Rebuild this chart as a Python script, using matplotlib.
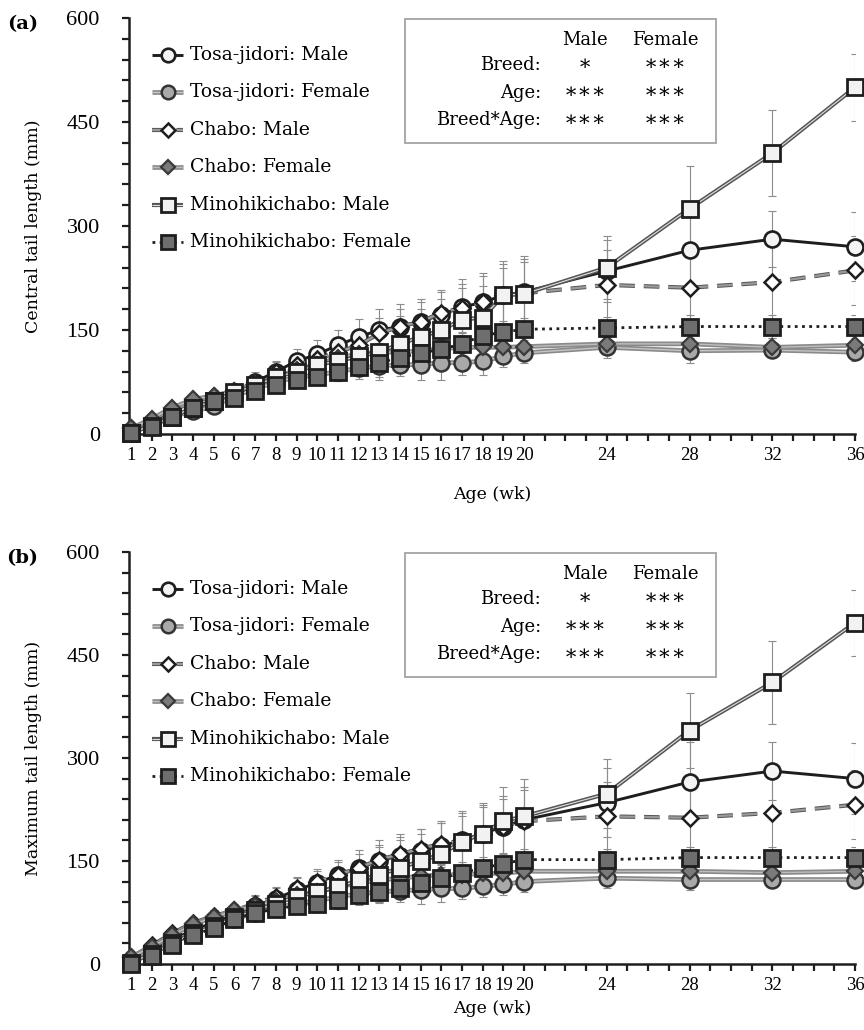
import matplotlib.pyplot as plt
from matplotlib import patheffects as pe

# -----------------------------
# Data
# -----------------------------

weeks = list(range(1, 21)) + [24, 28, 32, 36]

series_labels = [
    "Tosa-jidori: Male",
    "Tosa-jidori: Female",
    "Chabo: Male",
    "Chabo: Female",
    "Minohikichabo: Male",
    "Minohikichabo: Female",
]

# (a) central tail length, mm
central_tosa_m = [5, 15, 28, 35, 42, 60, 75, 90, 105, 115, 128, 140, 150, 155, 162, 172, 183, 190, 200, 205, 235, 265, 281, 270]
central_tosa_f = [3, 12, 25, 33, 40, 55, 65, 75, 82, 85, 90, 95, 98, 100, 100, 103, 103, 105, 112, 117, 125, 120, 121, 118]
central_chabo_m = [8, 20, 35, 45, 55, 62, 75, 90, 100, 108, 118, 128, 145, 155, 162, 175, 182, 190, 200, 203, 215, 211, 219, 236]
central_chabo_f = [8, 22, 38, 50, 55, 62, 72, 82, 92, 100, 110, 115, 118, 118, 120, 123, 125, 125, 125, 126, 130, 130, 125, 128]
central_mino_m = [2, 12, 25, 38, 48, 60, 70, 82, 90, 100, 105, 112, 118, 130, 140, 150, 165, 168, 200, 202, 240, 325, 405, 500]
central_mino_f = [2, 10, 25, 38, 48, 52, 62, 70, 78, 82, 90, 97, 103, 110, 117, 122, 130, 142, 147, 151, 153, 155, 155, 155]

central_tosa_m_sd = [3, 5, 6, 8, 10, 12, 14, 16, 18, 20, 22, 26, 30, 32, 32, 36, 40, 42, 45, 48, 45, 58, 40, 50]
central_tosa_f_sd = [2, 4, 5, 6, 8, 9, 10, 11, 12, 13, 14, 15, 16, 16, 22, 25, 18, 20, 15, 15, 15, 18, 12, 12]
central_chabo_m_sd = [3, 5, 6, 8, 9, 10, 12, 14, 15, 16, 18, 20, 22, 25, 28, 30, 35, 38, 40, 45, 50, 55, 55, 50]
central_chabo_f_sd = [2, 4, 5, 6, 7, 8, 9, 10, 11, 12, 12, 13, 13, 14, 14, 14, 14, 14, 14, 14, 14, 14, 14, 14]
central_mino_m_sd = [2, 4, 5, 6, 8, 10, 12, 14, 16, 18, 22, 28, 40, 40, 40, 45, 45, 45, 50, 55, 45, 62, 62, 48]
central_mino_f_sd = [2, 3, 4, 5, 6, 8, 9, 10, 11, 12, 13, 14, 14, 15, 16, 16, 16, 16, 16, 16, 16, 16, 16, 16]

# (b) maximum tail length, mm
maximum_tosa_m = [5, 20, 35, 50, 60, 72, 85, 95, 108, 118, 130, 140, 150, 158, 165, 172, 180, 190, 200, 210, 235, 265, 281, 270]
maximum_tosa_f = [3, 18, 32, 45, 55, 65, 75, 82, 88, 92, 98, 102, 105, 107, 108, 110, 110, 113, 116, 120, 125, 123, 123, 123]
maximum_chabo_m = [10, 27, 45, 60, 70, 78, 88, 98, 110, 120, 130, 140, 152, 160, 168, 175, 180, 190, 200, 208, 215, 213, 220, 232]
maximum_chabo_f = [10, 25, 42, 58, 68, 78, 85, 92, 100, 105, 112, 118, 122, 125, 128, 130, 130, 132, 132, 135, 135, 135, 133, 135]
maximum_mino_m = [2, 15, 30, 45, 55, 68, 78, 88, 98, 105, 112, 122, 130, 140, 150, 160, 178, 190, 208, 215, 248, 340, 410, 497]
maximum_mino_f = [0, 12, 28, 42, 52, 65, 75, 80, 85, 88, 93, 100, 105, 110, 118, 125, 133, 140, 146, 152, 152, 155, 155, 155]

maximum_tosa_m_sd = [3, 5, 6, 8, 10, 12, 14, 16, 18, 20, 22, 26, 30, 32, 32, 36, 40, 42, 45, 48, 50, 58, 42, 52]
maximum_tosa_f_sd = [2, 4, 5, 6, 8, 9, 10, 11, 12, 13, 14, 15, 16, 16, 20, 20, 16, 16, 15, 15, 15, 15, 12, 12]
maximum_chabo_m_sd = [3, 5, 6, 8, 9, 10, 12, 14, 15, 16, 18, 20, 22, 25, 28, 30, 35, 38, 40, 45, 50, 55, 55, 50]
maximum_chabo_f_sd = [2, 4, 5, 6, 7, 8, 9, 10, 11, 12, 12, 13, 13, 14, 14, 14, 14, 14, 14, 14, 14, 14, 14, 14]
maximum_mino_m_sd = [2, 4, 5, 6, 8, 10, 12, 14, 16, 18, 22, 28, 40, 40, 40, 45, 45, 45, 50, 55, 50, 55, 60, 48]
maximum_mino_f_sd = [2, 3, 4, 5, 6, 8, 9, 10, 11, 12, 13, 14, 14, 15, 16, 16, 16, 16, 16, 16, 16, 16, 16, 16]

stat_rows = ["Breed:", "Age:", "Breed*Age:"]
stat_male = ["\u2217", "\u2217\u2217\u2217", "\u2217\u2217\u2217"]
stat_female = ["\u2217\u2217\u2217", "\u2217\u2217\u2217", "\u2217\u2217\u2217"]

# -----------------------------
# Styles
# -----------------------------

plt.rcParams["font.family"] = ["DejaVu Serif"]

DARK = "#1e1e1e"


def double(outer, inner, w_out, w_in):
    return dict(lw=w_in, color=inner,
                path_effects=[pe.Stroke(linewidth=w_out, foreground=outer), pe.Normal()])


styles = [
    dict(line=dict(lw=2.1, color=DARK, ls="-"),
         mk=dict(marker="o", ms=11.5, mfc="#f4f4f4", mec=DARK, mew=1.9)),
    dict(line=double("#8a8a8a", "#c4c4c4", 3.4, 1.0),
         mk=dict(marker="o", ms=11.5, mfc="#a9a9a9", mec="#333333", mew=1.8)),
    dict(line=dict(lw=1.6, color="#9a9a9a", ls=(0, (7, 4)),
                   path_effects=[pe.Stroke(linewidth=3.0, foreground="#555555"), pe.Normal()]),
         mk=dict(marker="D", ms=8.5, mfc="white", mec=DARK, mew=1.8)),
    dict(line=double("#8a8a8a", "#bdbdbd", 3.4, 1.0),
         mk=dict(marker="D", ms=8.5, mfc="#7a7a7a", mec="#3a3a3a", mew=1.6)),
    dict(line=double("#555555", "#e0e0e0", 3.0, 0.8),
         mk=dict(marker="s", ms=11.5, mfc="#f2f2f2", mec=DARK, mew=2.0)),
    dict(line=dict(lw=2.0, color=DARK, ls=(0, (1, 1.6))),
         mk=dict(marker="s", ms=11.5, mfc="#6e6e6e", mec=DARK, mew=2.0)),
]

# -----------------------------
# Figure
# -----------------------------

fig = plt.figure(figsize=(8.64, 10.30), dpi=100)

W, H = 864, 1030
AX_L, AX_R = 129, 855


def add_axes(top_px, bottom_px):
    return fig.add_axes([AX_L / W, 1 - bottom_px / H, (AX_R - AX_L) / W, (bottom_px - top_px) / H])


def draw_panel(ax, values, sds, ylabel, tag, height_px, xlabel_pad):
    for vals, sd in zip(values, sds):
        ax.errorbar(weeks, vals, yerr=sd, fmt="none", ecolor="#8c8c8c",
                    elinewidth=0.8, capsize=3, capthick=0.8, zorder=1)
    for i, (vals, st) in enumerate(zip(values, styles)):
        ax.plot(weeks, vals, zorder=2 + 2 * i, solid_capstyle="butt", **st["line"])
        ax.plot(weeks, vals, ls="none", zorder=3 + 2 * i, clip_on=False, **st["mk"])

    ax.set_xlim(0.9, 36)
    ax.set_ylim(0, 600)

    for s in ["top", "right"]:
        ax.spines[s].set_visible(False)
    for s in ["left", "bottom"]:
        ax.spines[s].set_linewidth(1.8)
        ax.spines[s].set_color(DARK)

    ax.set_xticks(range(1, 37))
    ax.set_xticklabels([str(w) if w in weeks else "" for w in range(1, 37)])
    ax.set_yticks([0, 150, 300, 450, 600])
    ax.set_yticks(range(0, 601, 30), minor=True)
    ax.tick_params(axis="x", direction="out", length=5, width=1.6, color=DARK, pad=4)
    ax.tick_params(axis="y", which="both", direction="out", length=5, width=1.6,
                   color=DARK, pad=16)
    for t in ax.get_xticklabels():
        t.set_fontfamily("Liberation Serif")
        t.set_fontsize(13.5)
    for t in ax.get_yticklabels():
        t.set_fontfamily("Liberation Serif")
        t.set_fontsize(16)

    ax.set_xlabel("Age (wk)", fontsize=12.5, labelpad=xlabel_pad)
    ax.set_ylabel(ylabel, fontsize=12.5)
    ax.yaxis.set_label_coords(-0.12, 0.5)

    ax.text(-0.147, 0.985, tag, transform=ax.transAxes, fontsize=14,
            fontweight="bold", ha="center", va="center")

    # legend drawn by hand so the rows sit where the original has them
    for i, (lab, st) in enumerate(zip(series_labels, styles)):
        y = 1 - (37 + 37.4 * i) / height_px
        x0, x1 = (152 - AX_L) / (AX_R - AX_L), (183 - AX_L) / (AX_R - AX_L)
        ax.plot([x0, x1], [y, y], transform=ax.transAxes, clip_on=False,
                zorder=20, solid_capstyle="butt", **st["line"])
        mk = dict(st["mk"])
        mk["ms"] = mk["ms"] * 0.85
        ax.plot([(x0 + x1) / 2], [y], transform=ax.transAxes, clip_on=False,
                ls="none", zorder=21, **mk)
        ax.text((190 - AX_L) / (AX_R - AX_L), y, lab, transform=ax.transAxes,
                fontsize=13.5, va="center", ha="left")

    # statistics box
    bx0 = (405 - AX_L) / (AX_R - AX_L)
    bx1 = (716 - AX_L) / (AX_R - AX_L)
    by1 = 1 - 1 / height_px
    by0 = 1 - 125 / height_px
    ax.add_patch(plt.Rectangle((bx0, by0), bx1 - bx0, by1 - by0, transform=ax.transAxes,
                               fill=True, facecolor="white", edgecolor="#aaaaaa",
                               lw=1.4, zorder=25, clip_on=False))
    cx_label = (541 - AX_L) / (AX_R - AX_L)
    cx_m = (585 - AX_L) / (AX_R - AX_L)
    cx_f = (665 - AX_L) / (AX_R - AX_L)
    rows_px = [22, 47, 75, 102]
    ax.text(cx_m, 1 - rows_px[0] / height_px, "Male", transform=ax.transAxes,
            fontsize=13, ha="center", va="center", zorder=26)
    ax.text(cx_f, 1 - rows_px[0] / height_px, "Female", transform=ax.transAxes,
            fontsize=13, ha="center", va="center", zorder=26)
    for r, lab, m, f in zip(rows_px[1:], stat_rows, stat_male, stat_female):
        yy = 1 - r / height_px
        ax.text(cx_label, yy, lab, transform=ax.transAxes, fontsize=13,
                ha="right", va="center", zorder=26)
        ax.text(cx_m, yy, m, transform=ax.transAxes, fontsize=15,
                ha="center", va="center", zorder=26)
        ax.text(cx_f, yy, f, transform=ax.transAxes, fontsize=15,
                ha="center", va="center", zorder=26)


# -----------------------------
# Panel (a): central tail length
# -----------------------------

ax_a = add_axes(18, 434)
draw_panel(
    ax_a,
    [central_tosa_m, central_tosa_f, central_chabo_m, central_chabo_f, central_mino_m, central_mino_f],
    [central_tosa_m_sd, central_tosa_f_sd, central_chabo_m_sd, central_chabo_f_sd, central_mino_m_sd, central_mino_f_sd],
    "Central tail length (mm)", "(a)", 434 - 18, 16,
)

# -----------------------------
# Panel (b): maximum tail length
# -----------------------------

ax_b = add_axes(552, 964)
draw_panel(
    ax_b,
    [maximum_tosa_m, maximum_tosa_f, maximum_chabo_m, maximum_chabo_f, maximum_mino_m, maximum_mino_f],
    [maximum_tosa_m_sd, maximum_tosa_f_sd, maximum_chabo_m_sd, maximum_chabo_f_sd, maximum_mino_m_sd, maximum_mino_f_sd],
    "Maximum tail length (mm)", "(b)", 964 - 552, 5,
)

fig.savefig("out.png", dpi=100)
